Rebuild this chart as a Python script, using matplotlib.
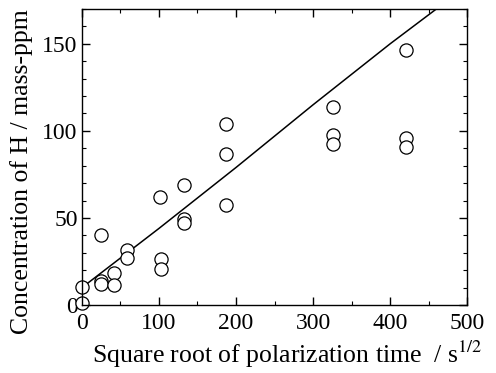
import matplotlib
matplotlib.use("Agg")
import matplotlib.pyplot as plt
from matplotlib.ticker import MultipleLocator

# measured points: sqrt(polarization time) vs H concentration
sqrt_t = [0, 0, 25, 25, 25, 42, 42, 59, 59,
          102, 103, 103, 132, 132, 132, 187, 187, 187,
          326, 326, 326, 421, 421, 421]
conc_h = [10.5, 1.5, 40, 14, 12, 18.5, 11.5, 31.5, 27,
          62, 26.5, 20.5, 69, 49.5, 47, 104, 87, 57.5,
          114, 97.5, 92.5, 146.5, 96, 90.5]

# guide line drawn through the data
fit_x = [0, 100, 200, 300, 400, 460]
fit_y = [10, 44, 79, 115, 150, 170]

plt.rcParams.update({
    "font.family": "Liberation Serif",
    "mathtext.fontset": "stix",
    "font.size": 17,
    "xtick.direction": "in",
    "ytick.direction": "in",
    "xtick.top": True,
    "ytick.right": True,
    "xtick.minor.visible": True,
    "ytick.minor.visible": True,
    "axes.linewidth": 1.0,
})

fig = plt.figure(figsize=(4.96, 3.73), dpi=100)
ax = fig.add_axes([0.165, 0.182, 0.777, 0.794])

ax.plot(fit_x, fit_y, color="black", lw=1.1)
ax.plot(sqrt_t, conc_h, ls="none", marker="o", ms=9.5,
        mfc="white", mec="black", mew=0.9, clip_on=False)

ax.set_xlim(0, 500)
ax.set_ylim(0, 170)
ax.xaxis.set_major_locator(MultipleLocator(100))
ax.xaxis.set_minor_locator(MultipleLocator(50))
ax.yaxis.set_major_locator(MultipleLocator(50))
ax.yaxis.set_minor_locator(MultipleLocator(10))
ax.tick_params(which="major", length=6, width=1, labelsize=17)
ax.tick_params(axis="x", which="major", pad=6)
ax.tick_params(axis="y", which="major", pad=3)
ax.tick_params(which="minor", length=3, width=0.8)

ax.set_xlabel(r"Square root of polarization time  / s$^{1/2}$", fontsize=18.5,
              va="baseline")
ax.set_ylabel("Concentration of H / mass-ppm", fontsize=18.5)
ax.xaxis.set_label_coords(0.532, -0.196)
ax.yaxis.set_label_coords(-0.127, 0.45)

fig.savefig("out.png", dpi=100)
